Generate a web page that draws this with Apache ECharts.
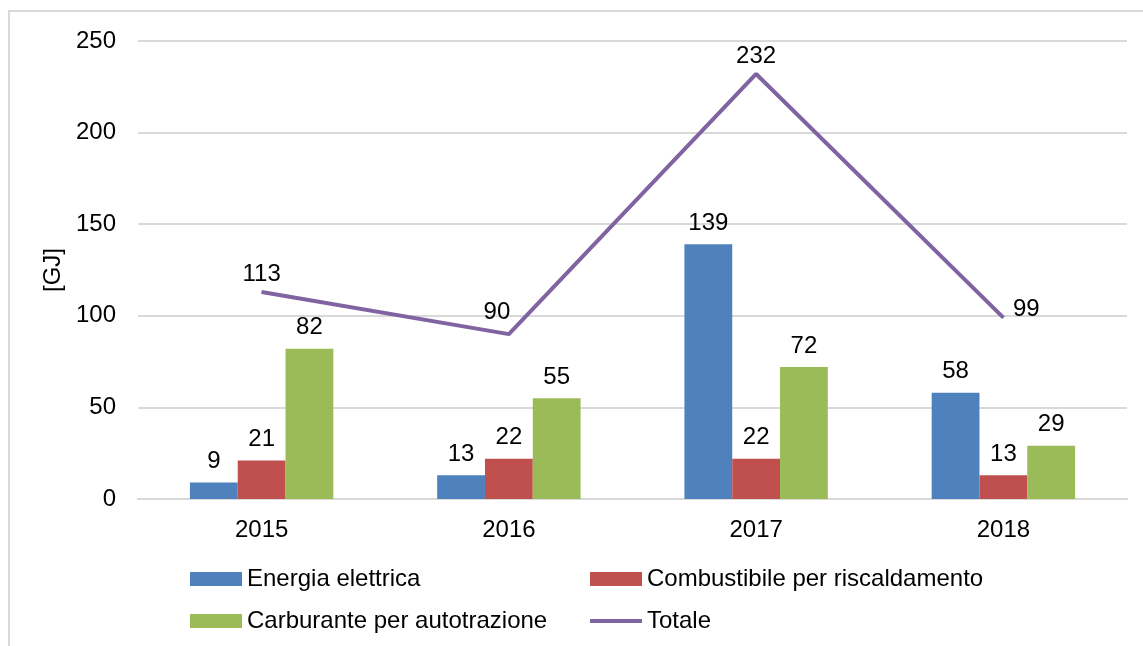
<!DOCTYPE html>
<html>
<head>
<meta charset="utf-8">
<script src="https://cdn.jsdelivr.net/npm/echarts@6/dist/echarts.min.js"></script>
<style>
  html, body { margin: 0; padding: 0; background: #fff; }
  #chart-container { width: 1143px; height: 646px; }
</style>
</head>
<body>
<div id="chart-container"></div>
<script>
// Data
const years = ['2015', '2016', '2017', '2018'];
const energiaElettrica = [9, 13, 139, 58];
const combustibile = [21, 22, 22, 13];
const carburante = [82, 55, 72, 29];
const totale = [113, 90, 232, 99];
const yTicks = [0, 50, 100, 150, 200, 250];

const chartContainer = document.getElementById('chart-container');
const myChart = echarts.init(chartContainer);

const font = 'Liberation Sans, Arial, sans-serif';
const txt = { color: '#000', fontFamily: font, fontSize: 24 };

// Excel placed the line labels in slightly different spots
const totalePositions = [
  { position: 'top', offset: [0, 0] },
  { position: 'top', offset: [-12, -4] },
  { position: 'top', offset: [0, 0] },
  { position: 'right', offset: [4, -8] }
];

function barSeries(name, data, color) {
  return {
    name: name,
    type: 'bar',
    data: data,
    barGap: '0%',
    barCategoryGap: '42%',
    itemStyle: { color: color },
    label: { show: true, position: 'top', distance: 9, ...txt }
  };
}

function legendAt(left, top, name, extra) {
  return Object.assign({
    left: left,
    top: top,
    data: [name],
    itemWidth: 52,
    itemHeight: 14,
    icon: 'rect',
    textStyle: txt,
    selectedMode: false
  }, extra || {});
}

const option = {
  animation: false,
  graphic: [{
    type: 'rect',
    shape: { x: 9, y: 11, width: 1200, height: 700 },
    style: { fill: 'none', stroke: '#d9d9d9', lineWidth: 2 },
    silent: true
  }],
  grid: { left: 138, right: 16, top: 41, bottom: 147 },
  legend: [
    legendAt(185, 562, 'Energia elettrica'),
    legendAt(585, 562, 'Combustibile per riscaldamento'),
    legendAt(185, 604, 'Carburante per autotrazione'),
    legendAt(585, 604, 'Totale', { itemHeight: 4 })
  ],
  xAxis: {
    type: 'category',
    data: years,
    axisTick: { show: false },
    axisLine: { lineStyle: { color: '#d9d9d9', width: 2 } },
    axisLabel: { margin: 19, ...txt }
  },
  yAxis: {
    type: 'value',
    min: yTicks[0],
    max: yTicks[yTicks.length - 1],
    interval: 50,
    name: '[GJ]',
    nameLocation: 'middle',
    nameGap: 62,
    nameRotate: 90,
    nameTextStyle: txt,
    axisLine: { show: false },
    axisTick: { show: false },
    axisLabel: { margin: 22, ...txt },
    splitLine: { lineStyle: { color: '#d9d9d9', width: 2 } }
  },
  series: [
    barSeries('Energia elettrica', energiaElettrica, '#4f81bd'),
    barSeries('Combustibile per riscaldamento', combustibile, '#c0504d'),
    barSeries('Carburante per autotrazione', carburante, '#9bbb59'),
    {
      name: 'Totale',
      type: 'line',
      data: totale.map((v, i) => ({ value: v, label: totalePositions[i] })),
      symbol: 'circle',
      symbolSize: 1,
      lineStyle: { color: '#8064a2', width: 4 },
      itemStyle: { color: '#8064a2' },
      label: { show: true, distance: 5, ...txt },
      z: 5
    }
  ]
};

myChart.setOption(option);
</script>
</body>
</html>
